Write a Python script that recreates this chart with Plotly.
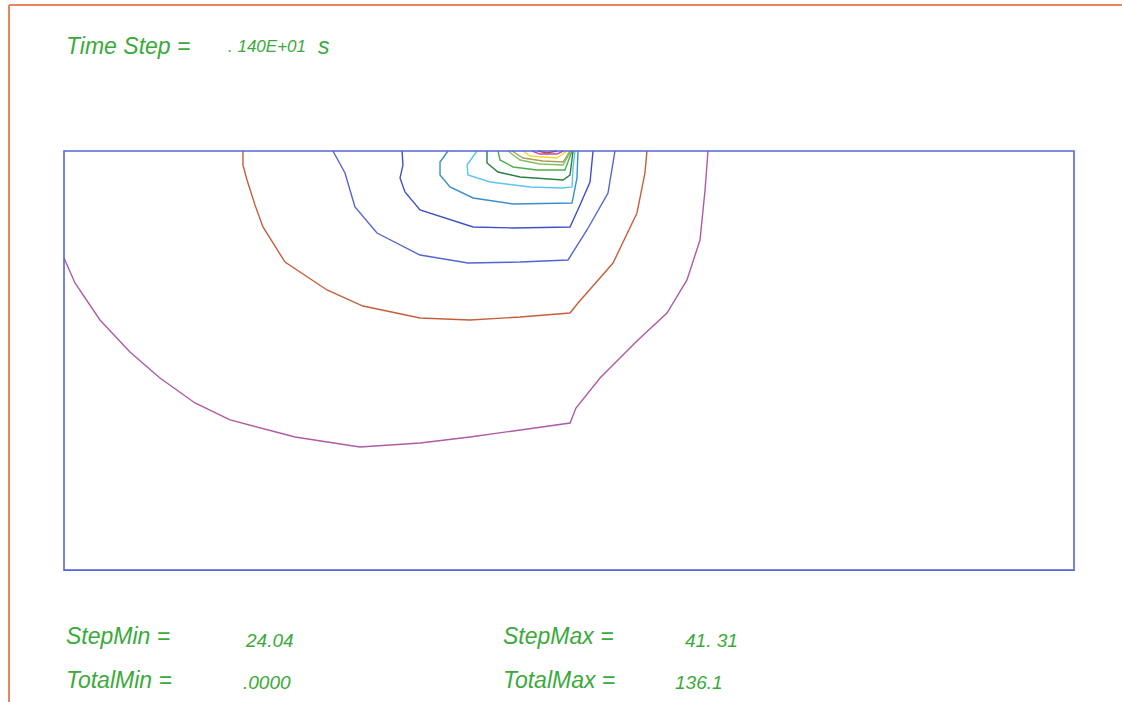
import plotly.graph_objects as go

# Cross-section of the plate (mm): width x depth
plate_width = 100.0
plate_depth = 41.5

# Isotherm polylines (x in mm from the left edge, y in mm, 0 = heated surface)
iso01_x = [0.0, 1.09, 3.56, 6.53, 9.50, 12.97, 16.44, 22.87, 29.31, 35.25, 40.20, 45.15, 50.10, 50.69, 53.07, 56.83, 59.70, 61.68, 62.97, 63.47, 63.76]
iso01_y = [-10.59, -13.07, -16.73, -19.90, -22.48, -24.95, -26.63, -28.32, -29.31, -28.91, -28.32, -27.62, -26.93, -25.45, -22.48, -18.71, -16.04, -12.77, -8.81, -3.86, 0.0]

iso02_x = [17.72, 17.72, 18.12, 18.91, 19.70, 21.88, 26.04, 29.60, 35.25, 40.20, 45.15, 50.10, 50.89, 54.36, 56.73, 57.52, 57.72]
iso02_y = [0.0, -1.39, -2.87, -5.35, -7.52, -10.99, -13.76, -15.35, -16.53, -16.73, -16.44, -16.04, -15.05, -11.09, -6.14, -2.18, 0.0]

iso03_x = [26.63, 27.82, 28.81, 30.99, 35.25, 40.00, 45.15, 49.90, 51.78, 53.86, 54.55]
iso03_y = [0.0, -2.18, -5.54, -8.12, -10.30, -11.09, -10.99, -10.79, -7.82, -4.16, 0.0]

iso04_x = [33.47, 33.56, 33.27, 33.76, 35.25, 40.50, 44.46, 50.10, 51.09, 52.08, 52.38]
iso04_y = [0.0, -1.39, -2.67, -4.06, -5.84, -7.52, -7.62, -7.52, -5.35, -3.07, 0.0]

iso05_x = [38.02, 37.23, 37.23, 38.22, 40.50, 44.46, 50.30, 50.79, 50.89]
iso05_y = [0.0, -1.09, -2.38, -3.56, -4.65, -5.25, -5.15, -2.67, 0.0]

iso06_x = [40.89, 39.90, 40.00, 42.18, 46.14, 49.31, 50.30, 50.40, 50.59]
iso06_y = [0.0, -1.39, -2.38, -3.07, -3.56, -3.66, -3.56, -1.68, 0.0]

iso07_x = [41.88, 41.88, 42.97, 45.15, 49.41, 50.10, 50.40]
iso07_y = [0.0, -1.19, -2.08, -2.57, -2.87, -2.38, 0.0]

iso08_x = [42.97, 43.17, 44.46, 46.83, 49.60, 50.30]
iso08_y = [0.0, -0.89, -1.58, -1.88, -1.88, 0.0]

iso09_x = [43.96, 45.15, 47.13, 49.41, 50.20]
iso09_y = [0.0, -0.89, -1.29, -1.39, 0.0]

iso10_x = [44.36, 45.45, 47.43, 49.41, 50.10]
iso10_y = [0.0, -0.69, -0.99, -1.09, 0.0]

iso11_x = [45.45, 46.14, 48.81, 49.80]
iso11_y = [0.0, -0.50, -0.69, 0.0]

iso12_x = [46.34, 47.13, 48.81, 49.41]
iso12_y = [0.0, -0.30, -0.30, 0.0]

iso13_x = [46.93, 47.82, 48.81]
iso13_y = [0.0, -0.20, 0.0]

iso_colors = ["#b05aa2", "#c4603c", "#5465d2", "#3e50c6", "#3c8ec8", "#5cc4ee",
              "#2a8040", "#4aae4e", "#80c060", "#aa9c5c", "#eedc22", "#c444b4", "#b84a3a"]

# Header / footer readouts
time_label = "Time Step ="
time_value = ". 140E+01"
time_unit = "s"
stat_labels = ["StepMin =", "TotalMin =", "StepMax =", "TotalMax ="]
stat_values = ["24.04", ".0000", "41. 31", "136.1"]

W, H = 1122, 702
# pixel placement of the plate box
box_left, box_right, box_top = 64, 1074, 151
scale = (box_right - box_left) / plate_width  # px per mm

isotherms = [
    (iso01_x, iso01_y), (iso02_x, iso02_y), (iso03_x, iso03_y), (iso04_x, iso04_y),
    (iso05_x, iso05_y), (iso06_x, iso06_y), (iso07_x, iso07_y), (iso08_x, iso08_y),
    (iso09_x, iso09_y), (iso10_x, iso10_y), (iso11_x, iso11_y), (iso12_x, iso12_y),
    (iso13_x, iso13_y),
]

fig = go.Figure()
for (xs, ys), col in zip(isotherms, iso_colors):
    fig.add_trace(go.Scatter(x=xs, y=ys, mode="lines",
                             line=dict(color=col, width=1.4),
                             hoverinfo="skip", showlegend=False))

# plate outline
fig.add_shape(type="rect", xref="x", yref="y", x0=0, x1=plate_width,
              y0=-plate_depth, y1=0, line=dict(color="#5565d5", width=1.6))

# outer page frame (top and left edges)
fx, fy = 9 / W, 1 - 5 / H
fig.add_shape(type="line", xref="paper", yref="paper", x0=fx, x1=fx, y0=0, y1=fy,
              line=dict(color="#e8845f", width=2))
fig.add_shape(type="line", xref="paper", yref="paper", x0=fx, x1=1, y0=fy, y1=fy,
              line=dict(color="#e8845f", width=2))

green = "#3aaa3a"
label_font = dict(family="Liberation Sans, Arial, sans-serif", size=23, color=green, style="italic")
num_font = dict(family="Liberation Sans, Arial, sans-serif", size=19,
                color=green, style="italic")
time_num_font = dict(family="Liberation Sans, Arial, sans-serif", size=17,
                     color=green, style="italic")


def put(text, px, py, font):
    fig.add_annotation(text=text, xref="paper", yref="paper", x=px / W, y=1 - py / H,
                       xanchor="left", yanchor="middle", showarrow=False, font=font)


put(time_label, 64, 46, label_font)
put(time_value, 226, 46, time_num_font)
put(time_unit, 316, 46, label_font)

label_pos = [(64, 636), (64, 680), (501, 636), (501, 680)]
value_pos = [(243, 640), (241, 682), (683, 640), (673, 682)]
for t, (px, py) in zip(stat_labels, label_pos):
    put(t, px, py, label_font)
for t, (px, py) in zip(stat_values, value_pos):
    put(t, px, py, num_font)

x_lo = -box_left / scale
x_hi = (W - box_left) / scale
y_hi = box_top / scale
y_lo = -(H - box_top) / scale

fig.update_layout(
    width=W, height=H, margin=dict(l=0, r=0, t=0, b=0),
    paper_bgcolor="white", plot_bgcolor="white", showlegend=False,
    xaxis=dict(range=[x_lo, x_hi], visible=False, fixedrange=True),
    yaxis=dict(range=[y_lo, y_hi], visible=False, fixedrange=True),
)

fig.write_html("out.html")
